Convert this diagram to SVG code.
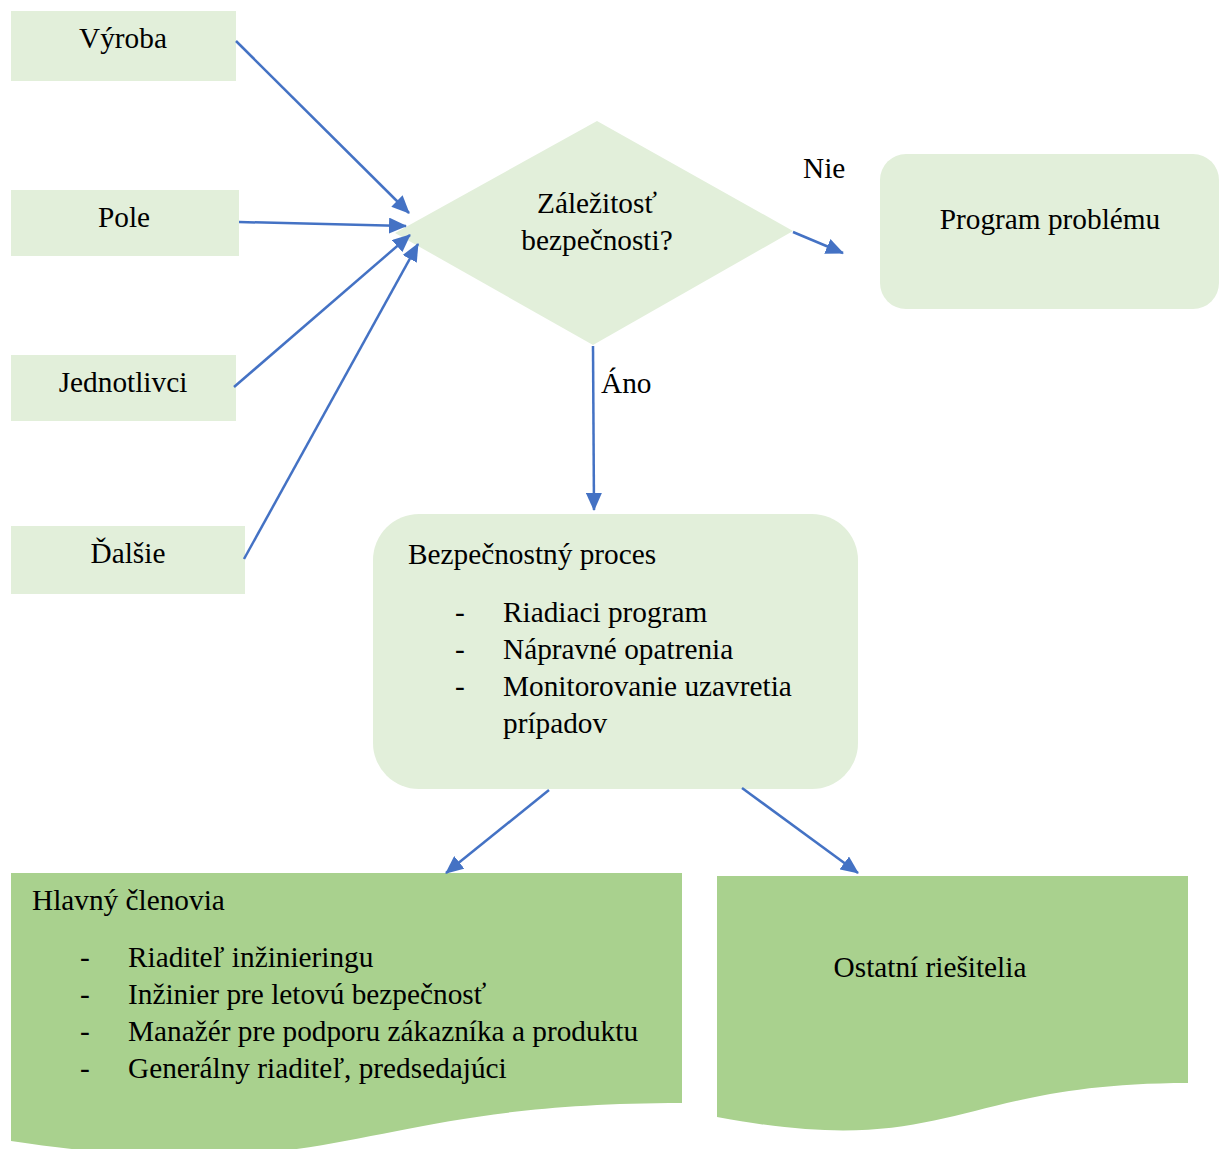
<svg xmlns="http://www.w3.org/2000/svg" width="1219" height="1149" viewBox="0 0 1219 1149">
  <style>
    text { font-family: "Liberation Serif", "Times New Roman", serif; font-size: 29.3px; fill: #000; }
    .c { text-anchor: middle; }
    .light { fill: #E2EFDA; }
    .dark { fill: #A9D18E; }
    .edge { stroke: #4472C4; stroke-width: 2.5; fill: none; marker-end: url(#arrow); }
  </style>
  <defs>
    <marker id="arrow" markerUnits="userSpaceOnUse" markerWidth="18" markerHeight="16" refX="17" refY="8" orient="auto">
      <path d="M0,0 L18,8 L0,16 Z" fill="#4472C4"/>
    </marker>
  </defs>

  <!-- input sources -->
  <g id="vyroba">
    <rect class="light" x="11" y="11" width="225" height="70"/>
    <text class="c" x="123" y="48">Výroba</text>
  </g>
  <g id="pole">
    <rect class="light" x="11" y="190" width="228" height="66"/>
    <text class="c" x="124" y="227">Pole</text>
  </g>
  <g id="jednotlivci">
    <rect class="light" x="11" y="355" width="225" height="66"/>
    <text class="c" x="123" y="392">Jednotlivci</text>
  </g>
  <g id="dalsie">
    <rect class="light" x="11" y="526" width="234" height="68"/>
    <text class="c" x="128" y="563">Ďalšie</text>
  </g>

  <!-- decision -->
  <g id="zalezitost">
    <polygon class="light" points="597,121 793,231 593,345 395,233"/>
    <text class="c" x="597" y="213">Záležitosť</text>
    <text class="c" x="597" y="250">bezpečnosti?</text>
  </g>

  <g id="program">
    <rect class="light" x="880" y="154" width="339" height="155" rx="26" ry="26"/>
    <text class="c" x="1050" y="229">Program problému</text>
  </g>

  <g id="proces">
    <rect class="light" x="373" y="514" width="485" height="275" rx="46" ry="46"/>
    <text x="408" y="564">Bezpečnostný proces</text>
    <text x="455" y="622">-</text>
    <text x="503" y="622">Riadiaci program</text>
    <text x="455" y="659">-</text>
    <text x="503" y="659">Nápravné opatrenia</text>
    <text x="455" y="696">-</text>
    <text x="503" y="696">Monitorovanie uzavretia</text>
    <text x="503" y="733">prípadov</text>
  </g>

  <!-- document-shaped outputs -->
  <g id="hlavni">
    <path class="dark" d="M11,873 H682 V1103 C346,1103 346,1191 11,1141 Z"/>
    <text x="32" y="910">Hlavný členovia</text>
    <text x="80" y="967">-</text>
    <text x="128" y="967">Riaditeľ inžinieringu</text>
    <text x="80" y="1004">-</text>
    <text x="128" y="1004">Inžinier pre letovú bezpečnosť</text>
    <text x="80" y="1041">-</text>
    <text x="128" y="1041">Manažér pre podporu zákazníka a produktu</text>
    <text x="80" y="1078">-</text>
    <text x="128" y="1078">Generálny riaditeľ, predsedajúci</text>
  </g>

  <g id="ostatni">
    <path class="dark" d="M717,876 H1188 V1083 C952,1083 952,1161 717,1117 Z"/>
    <text class="c" x="930" y="977">Ostatní riešitelia</text>
  </g>

  <g id="connectors">
    <line class="edge" x1="236" y1="41" x2="409" y2="213"/>
    <line class="edge" x1="239" y1="222" x2="406" y2="226"/>
    <line class="edge" x1="234" y1="387" x2="410" y2="235"/>
    <line class="edge" x1="244" y1="559" x2="418" y2="244"/>
    <line class="edge" x1="793" y1="232" x2="843" y2="253"/>
    <line class="edge" x1="593" y1="346" x2="594" y2="510"/>
    <line class="edge" x1="549" y1="790" x2="446" y2="873"/>
    <line class="edge" x1="742" y1="788" x2="858" y2="873"/>
    <text x="803" y="178">Nie</text>
    <text x="601" y="393">Áno</text>
  </g>
</svg>
